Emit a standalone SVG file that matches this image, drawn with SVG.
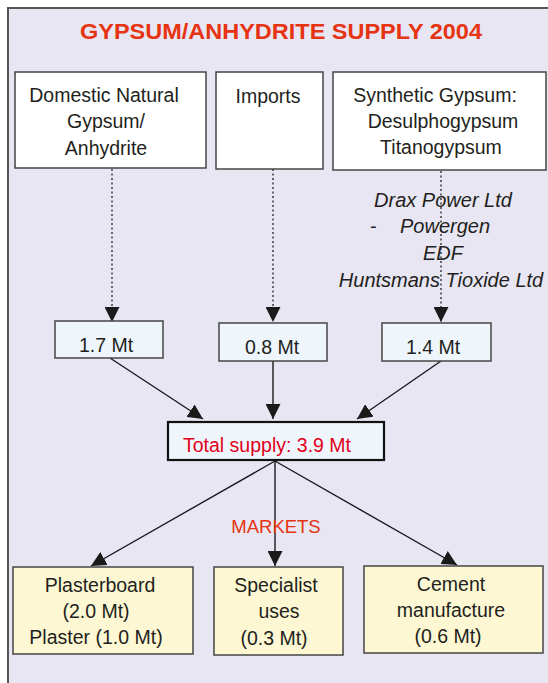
<svg xmlns="http://www.w3.org/2000/svg" width="548" height="683" viewBox="0 0 548 683">
<defs>
<marker id="ah" markerUnits="userSpaceOnUse" markerWidth="15" markerHeight="15" refX="15" refY="7.5" orient="auto">
<path d="M0,0 L15,7.5 L0,15 z" fill="#1a1a1a"/>
</marker>
<style>
text{font-family:"Liberation Sans",Arial,sans-serif;font-size:19.5px;fill:#231f20;text-anchor:middle}
.title{font-weight:bold;font-size:22.5px;fill:#e63312}
.src{fill:#ffffff;stroke:#444;stroke-width:1.5}
.val{fill:#eef6fc;stroke:#444;stroke-width:1.5}
.tot{fill:#eef6fc;stroke:#111;stroke-width:2.2}
.mkt{fill:#fdf8d3;stroke:#444;stroke-width:1.5}
.it{font-style:italic;font-size:20px}
.red{fill:#e3001b}
.or{fill:#e63312;font-size:18.5px}
.dot{stroke:#222;stroke-width:1.3;stroke-dasharray:2 2.5;fill:none}
.sol{stroke:#1a1a1a;stroke-width:1.4;fill:none}
</style>
</defs>
<rect x="0" y="0" width="548" height="683" fill="#ffffff"/>
<rect x="8" y="8" width="560" height="700" fill="#e8e6f3" stroke="#555" stroke-width="2"/>
<text class="title" x="281" y="39" textLength="402" lengthAdjust="spacingAndGlyphs">GYPSUM/ANHYDRITE SUPPLY 2004</text>

<g id="connectors">
<path class="dot" d="M112,169 V322" marker-end="url(#ah)"/>
<path class="dot" d="M273,169 V322" marker-end="url(#ah)"/>
<path class="dot" d="M441,171 V322" marker-end="url(#ah)"/>
<path class="sol" d="M110,358 L203,419" marker-end="url(#ah)"/>
<path class="sol" d="M273,361 V419" marker-end="url(#ah)"/>
<path class="sol" d="M441,361 L357,419" marker-end="url(#ah)"/>
<path class="sol" d="M275,461 L91,566" marker-end="url(#ah)"/>
<path class="sol" d="M275,461 V566" marker-end="url(#ah)"/>
<path class="sol" d="M275,461 L457,565" marker-end="url(#ah)"/>
</g>

<g id="domestic">
<rect class="src" x="15" y="72" width="191" height="96"/>
<text x="104" y="102">Domestic Natural</text>
<text x="106" y="128">Gypsum/</text>
<text x="106" y="155">Anhydrite</text>
</g>
<g id="imports">
<rect class="src" x="216" y="72" width="107" height="97"/>
<text x="268" y="103">Imports</text>
</g>
<g id="synthetic">
<rect class="src" x="333" y="72" width="213" height="98"/>
<text x="435" y="102">Synthetic Gypsum:</text>
<text x="443" y="128">Desulphogypsum</text>
<text x="441" y="154">Titanogypsum</text>
</g>

<g id="producers">
<text class="it" x="443" y="207">Drax Power Ltd</text>
<text class="it" x="373" y="233">-</text>
<text class="it" x="445" y="233">Powergen</text>
<text class="it" x="443" y="260">EDF</text>
<text class="it" x="441" y="287">Huntsmans Tioxide Ltd</text>
</g>

<g id="v17">
<rect class="val" x="55" y="321" width="108" height="37"/>
<text x="106" y="352">1.7 Mt</text>
</g>
<g id="v08">
<rect class="val" x="219" y="323" width="108" height="38"/>
<text x="272" y="354">0.8 Mt</text>
</g>
<g id="v14">
<rect class="val" x="382" y="323" width="109" height="38"/>
<text x="433" y="354">1.4 Mt</text>
</g>

<g id="total">
<rect class="tot" x="168" y="422" width="216" height="38"/>
<text class="red" x="267" y="452">Total supply: 3.9 Mt</text>
</g>

<text class="or" x="276" y="533">MARKETS</text>

<g id="plasterboard">
<rect class="mkt" x="13" y="567" width="180" height="87"/>
<text x="100" y="592">Plasterboard</text>
<text x="96" y="618">(2.0 Mt)</text>
<text x="96" y="644">Plaster (1.0 Mt)</text>
</g>
<g id="specialist">
<rect class="mkt" x="214" y="567" width="129" height="88"/>
<text x="276" y="592">Specialist</text>
<text x="279" y="618">uses</text>
<text x="274" y="645">(0.3 Mt)</text>
</g>
<g id="cement">
<rect class="mkt" x="364" y="566" width="179" height="87"/>
<text x="451" y="591">Cement</text>
<text x="451" y="617">manufacture</text>
<text x="448" y="643">(0.6 Mt)</text>
</g>
</svg>
